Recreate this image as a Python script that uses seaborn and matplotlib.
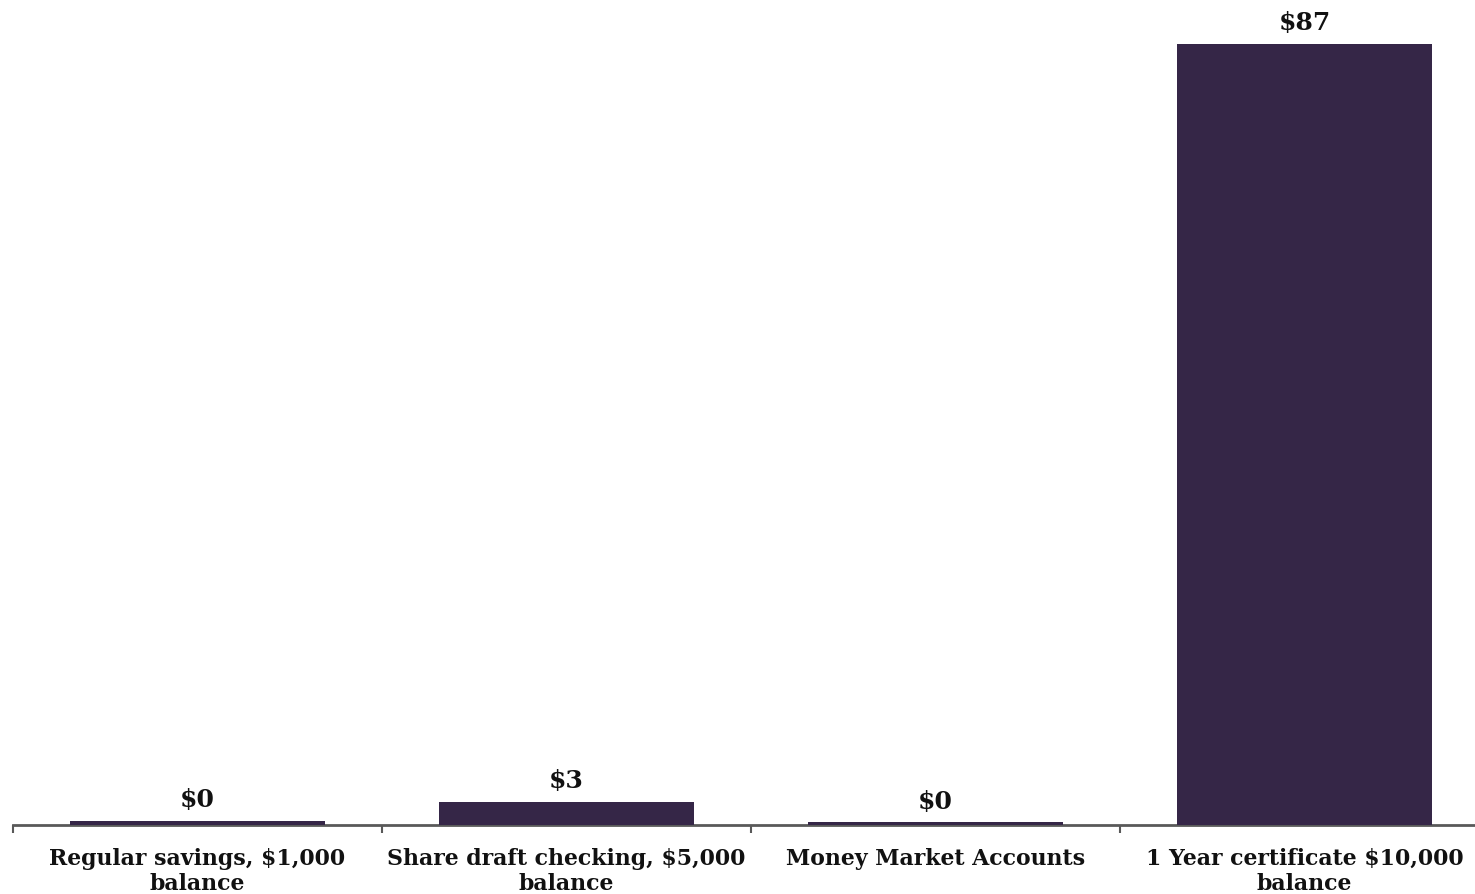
import matplotlib
matplotlib.use("Agg")
import matplotlib.pyplot as plt
import seaborn as sns
from matplotlib.ticker import FixedLocator

categories = [
    "Regular savings, $1,000\nbalance",
    "Share draft checking, $5,000\nbalance",
    "Money Market Accounts",
    "1 Year certificate $10,000\nbalance",
]
values = [0.5, 2.6, 0.3, 87]

bar_color = "#352647"
axis_color = "#595959"

sns.set_theme(style="white")
plt.rcParams["font.family"] = ["DejaVu Serif"]

fig = plt.figure(figsize=(14.75, 8.95), dpi=100)
ax = fig.add_axes([13 / 1475, 69 / 895, 1476 / 1475, 808 / 895])

sns.barplot(x=categories, y=values, color=bar_color, width=0.69,
            saturation=1, linewidth=0, ax=ax)

ax.set_xlim(-0.5, 3.5)
ax.set_ylim(0, 90)

for sp in ["top", "right", "left"]:
    ax.spines[sp].set_visible(False)
ax.spines["bottom"].set_color(axis_color)
ax.spines["bottom"].set_linewidth(2)
ax.spines["bottom"].set_zorder(0.5)
ax.set_yticks([])

ax.tick_params(axis="x", which="major", length=0, pad=16)
ax.xaxis.set_minor_locator(FixedLocator([-0.5, 0.5, 1.5, 2.5, 3.5]))
ax.tick_params(axis="x", which="minor", bottom=True, length=6, width=1.5,
               color=axis_color, direction="out")
for lbl in ax.get_xticklabels():
    lbl.set_fontsize(15.8)
    lbl.set_fontweight("bold")
    lbl.set_color("#111111")
    lbl.set_linespacing(1.15)
    lbl.set_verticalalignment("top")

for container in ax.containers:
    ax.bar_label(container, labels=[f"${v:.0f}" for v in values], padding=7,
                 fontsize=18, fontweight="bold", color="#111111")

ax.set_xlabel("")
ax.set_ylabel("")
fig.savefig("out.png", dpi=100, facecolor="white")
